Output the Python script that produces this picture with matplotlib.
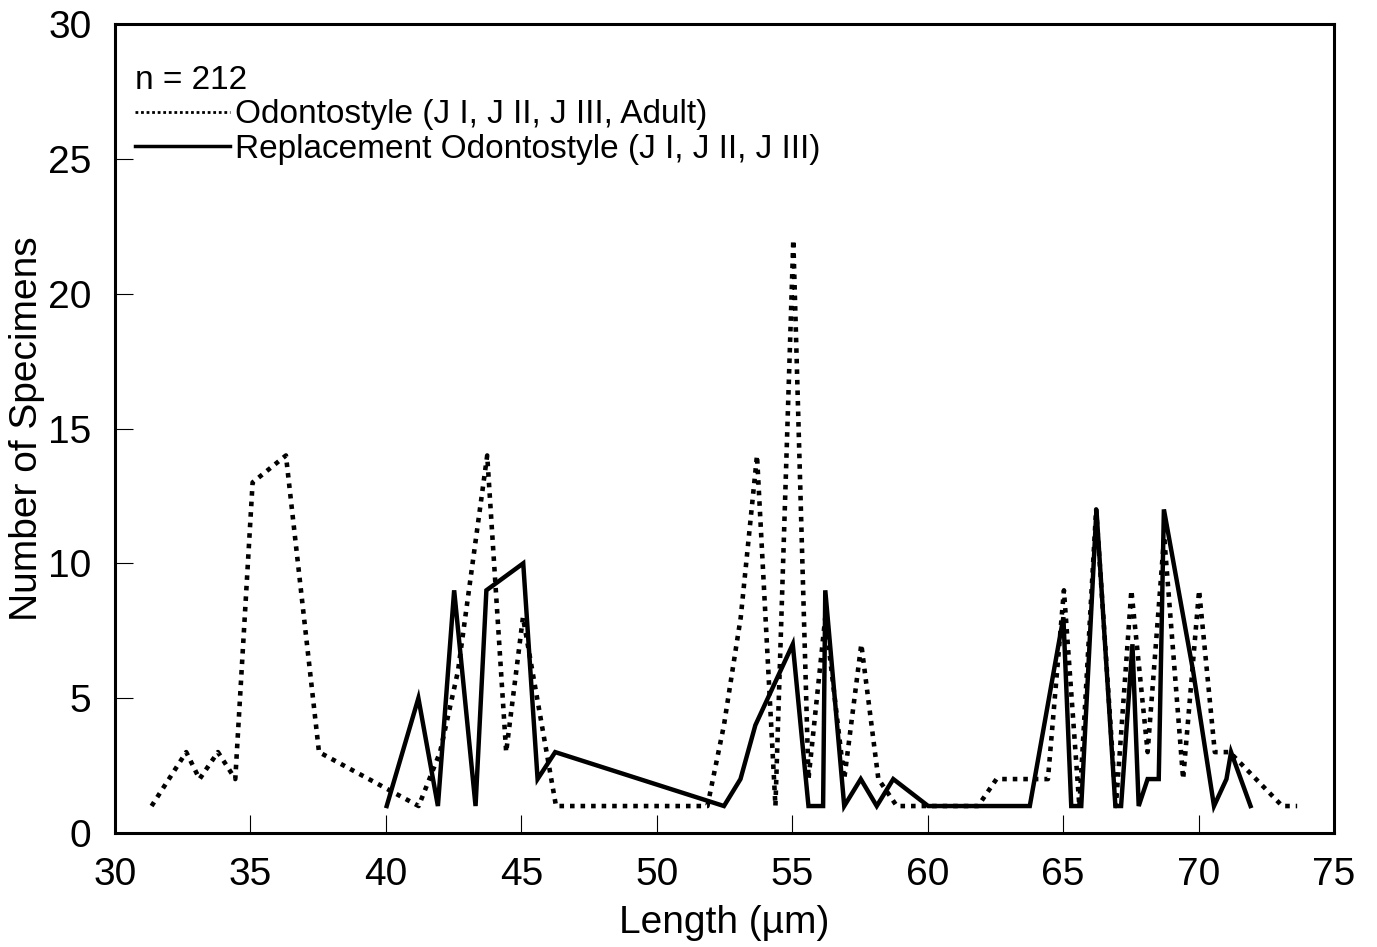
import matplotlib
matplotlib.use("Agg")
import matplotlib.pyplot as plt
from matplotlib.lines import Line2D

plt.rcParams["font.family"] = ["Liberation Sans", "DejaVu Sans"]

# Odontostyle (J I, J II, J III, Adult) - dotted
odonto_len = [31.35, 32.63, 33.12, 33.8, 34.44, 35.08, 36.31, 37.53, 41.21, 42.0,
              42.66, 43.74, 44.44, 45.06, 46.28, 51.87, 52.48, 53.1, 53.7, 54.38,
              55.04, 55.6, 56.22, 56.92, 57.55, 58.18, 58.86, 61.86, 62.54, 64.44,
              65.03, 65.6, 66.22, 66.95, 67.52, 68.12, 68.73, 69.43, 70.02, 70.6,
              71.15, 73.09, 73.64]
odonto_n = [1, 3, 2, 3, 2, 13, 14, 3, 1, 3,
            6, 14, 3, 8, 1, 1, 4, 8, 14, 1,
            22, 2, 8, 2, 7, 2, 1, 1, 2, 2,
            9, 1, 12, 1, 9, 3, 11, 2, 9, 3,
            3, 1, 1]

# Replacement Odontostyle (J I, J II, J III) - solid
repl_len = [40.03, 41.2, 41.92, 42.52, 43.31, 43.71, 45.07, 45.6, 46.25, 52.48,
            53.09, 53.64, 55.02, 55.6, 56.14, 56.22, 56.92, 57.53, 58.12, 58.73,
            60.02, 63.77, 65.01, 65.3, 65.67, 66.23, 66.93, 67.14, 67.56, 67.79,
            68.12, 68.53, 68.72, 69.8, 70.57, 71.03, 71.2, 71.92]
repl_n = [1, 5, 1, 9, 1, 9, 10, 2, 3, 1,
          2, 4, 7, 1, 1, 9, 1, 2, 1, 2,
          1, 1, 8, 1, 1, 12, 1, 1, 7, 1,
          2, 2, 12, 6, 1, 2, 3, 1]

x_ticks = [30, 35, 40, 45, 50, 55, 60, 65, 70, 75]
y_ticks = [0, 5, 10, 15, 20, 25, 30]

W, H = 1377, 947
fig = plt.figure(figsize=(W / 100, H / 100), dpi=100)
ax = fig.add_axes([115 / W, (H - 833) / H, (1334 - 115) / W, (833 - 24) / H])

ax.plot(odonto_len, odonto_n, color="black", lw=3.3,
        linestyle=(0, (1, 1.3)), dash_capstyle="butt")
ax.plot(repl_len, repl_n, color="black", lw=3.2, solid_joinstyle="miter")

ax.set_xlim(30, 75)
ax.set_ylim(0, 30)
ax.set_xticks(x_ticks)
ax.set_yticks(y_ticks)
ax.tick_params(direction="in", length=13, width=0.8, labelsize=28, pad=17)
for s in ax.spines.values():
    s.set_linewidth(2.2)

ax.set_xlabel("Length (µm)", fontsize=28, labelpad=9)
ax.set_ylabel("Number of Specimens", fontsize=28, labelpad=2)

handles = [
    Line2D([], [], color="black", lw=2.0, linestyle=(0, (1, 1))),
    Line2D([], [], color="black", lw=2.5),
]
leg = ax.legend(handles, ["Odontostyle (J I, J II, J III, Adult)",
                          "Replacement Odontostyle (J I, J II, J III)"],
                title="n = 212", title_fontsize=24, fontsize=24,
                alignment="left", loc="upper left", frameon=False,
                bbox_to_anchor=(-0.003, 0.978), handlelength=2.85,
                handletextpad=0.15, labelspacing=0.1, borderpad=0.4,
                borderaxespad=0.3)

fig.savefig("out.png", dpi=100)
